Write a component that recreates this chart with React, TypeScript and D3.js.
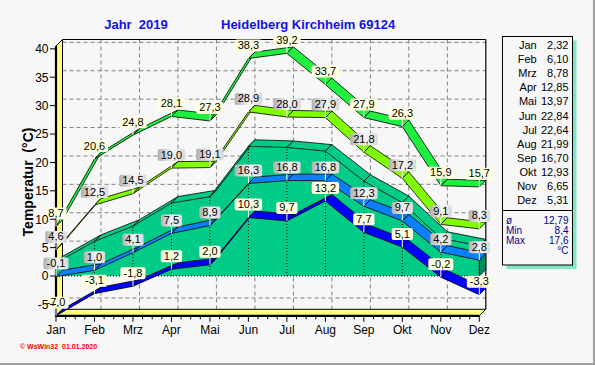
import React from 'react';
import * as d3 from 'd3';

// Monatswerte 2019, Heidelberg Kirchheim
const months = ['Jan', 'Feb', 'Mrz', 'Apr', 'Mai', 'Jun', 'Jul', 'Aug', 'Sep', 'Okt', 'Nov', 'Dez'];
const absMax = [8.7, 20.6, 24.8, 28.1, 27.3, 38.3, 39.2, 33.7, 27.9, 26.3, 15.9, 15.7];
const meanMax = [4.6, 12.5, 14.5, 19.0, 19.1, 28.9, 28.0, 27.9, 21.8, 17.2, 9.1, 8.3];
const meanTemp = [2.32, 6.10, 8.78, 12.85, 13.97, 22.84, 22.64, 21.99, 16.70, 12.93, 6.65, 5.31];
const meanMin = [-0.1, 1.0, 4.1, 7.5, 8.9, 16.3, 16.8, 16.8, 12.3, 9.7, 4.2, 2.8];
const absMin = [-7.0, -3.1, -1.8, 1.2, 2.0, 10.3, 9.7, 13.2, 7.7, 5.1, -0.2, -3.3];
const yTickValues = [-5, 0, 5, 10, 15, 20, 25, 30, 35, 40];
const summaryLabels = ['ø', 'Min', 'Max'];
const summaryValues = ['12,79', '8,4', '17,6'];

const FONT = 'Liberation Sans, Arial, sans-serif';
const DX = 6.5;
const DY = -6.5;

const x = d3.scalePoint<string>().domain(months).range([56, 479.3]);
const y = d3.scaleLinear().domain([-7, 40.5]).range([315.8, 46]);

const fmt = (v: number, digits = 1) => d3.format(`.${digits}f`)(v).replace('.', ',').replace('−', '-');

// rough text width for 11px Arial
const textWidth = (s: string) =>
  s.split('').reduce((w, c) => w + (c === ',' ? 3.1 : c === '-' ? 3.7 : 6.1), 0);

const line = d3.line<[number, number]>();

function ribbon(values: number[]) {
  const out: string[] = [];
  for (let i = 0; i < values.length - 1; i++) {
    const x0 = x(months[i])!, x1 = x(months[i + 1])!;
    const y0 = y(values[i]), y1 = y(values[i + 1]);
    out.push(line([[x0, y0], [x1, y1], [x1 + DX, y1 + DY], [x0 + DX, y0 + DY]])! + 'Z');
  }
  return out;
}

const Ribbon = ({ values, color }: { values: number[]; color: string }) => (
  <g>
    {ribbon(values).map((d, i) => (
      <path key={i} d={d} fill={color} stroke="#000" strokeWidth={0.8} strokeLinejoin="round" />
    ))}
  </g>
);

const Labels = ({ values, fill }: { values: number[]; fill: string }) => (
  <g>
    {values.map((v, i) => {
      const t = fmt(v);
      const w = textWidth(t) + 6;
      const px = x(months[i])!;
      const py = y(v);
      const bottom = Math.min(py - 7, 311);
      return (
        <g key={i}>
          <line x1={px} x2={px} y1={bottom} y2={py} stroke="#fff" strokeWidth={1} />
          <rect x={px - w / 2} y={bottom - 12} width={w} height={12} rx={2} fill={fill} />
          <text x={px} y={bottom - 2.5} textAnchor="middle" fontSize={11} fontFamily={FONT} fill="#000">
            {t}
          </text>
        </g>
      );
    })}
  </g>
);

export default function App() {
  const xL = x(months[0])!;
  const xR = x(months[months.length - 1])!;
  const yTop = y(40.5);
  const yBot = y(-7);
  const y0 = y(0);

  const area = d3
    .area<number>()
    .x((_, i) => x(months[i])!)
    .y0(y0)
    .y1(d => y(d));

  const last = meanTemp.length - 1;
  const sideFace = line([
    [xR, y(meanTemp[last])],
    [xR + DX, y(meanTemp[last]) + DY],
    [xR + DX, y0 + DY],
    [xR, y0],
  ])! + 'Z';

  const minorTicks: number[] = [];
  for (let i = 0; i < months.length - 1; i++) {
    const a = x(months[i])!, b = x(months[i + 1])!;
    for (let k = 1; k < 4; k++) minorTicks.push(a + ((b - a) * k) / 4);
  }

  return (
    <svg width={595} height={365} style={{ position: 'absolute', left: 0, top: 0, display: 'block' }}>
      <defs>
        <linearGradient id="grayLbl" x1="0" x2="1" y1="0" y2="0">
          <stop offset="0" stopColor="#b0b0b0" />
          <stop offset="0.55" stopColor="#f6f6f6" />
          <stop offset="1" stopColor="#d8d8d8" />
        </linearGradient>
      </defs>
      <rect width={595} height={365} fill="#f7f7f7" />
      <line x1={594} x2={594} y1={0} y2={365} stroke="#a0a0a0" strokeWidth={2} />
      <line x1={0} x2={595} y1={364} y2={364} stroke="#a0a0a0" strokeWidth={2} />

      {/* titles */}
      <text x={136} y={29} textAnchor="middle" fontSize={13} fontWeight="bold" fontFamily={FONT} fill="#1010f0" style={{ whiteSpace: 'pre' }}>
        {'Jahr  2019'}
      </text>
      <text x={221} y={29} fontSize={13} fontWeight="bold" fontFamily={FONT} fill="#1010f0">
        Heidelberg Kirchheim 69124
      </text>
      <text
        transform="translate(33,182) rotate(-90)"
        textAnchor="middle"
        fontSize={14}
        fontWeight="bold"
        fontFamily={FONT}
        style={{ whiteSpace: 'pre' }}
      >
        {'Temperatur  (°C)'}
      </text>

      {/* back wall grid */}
      <g stroke="#808080" strokeWidth={1} strokeDasharray="4,3">
        {yTickValues.map(v => (
          <line key={v} x1={xL + DX} x2={xR + DX} y1={y(v) + DY} y2={y(v) + DY} />
        ))}
        {months.slice(1, -1).map(m => (
          <line key={m} x1={x(m)! + DX} x2={x(m)! + DX} y1={yTop + DY} y2={yBot + DY} />
        ))}
      </g>
      <g stroke="#000" strokeWidth={1.2} fill="none">
        <line x1={xL + DX} x2={xR + DX} y1={yTop + DY} y2={yTop + DY} />
        <line x1={xR + DX} x2={xR + DX} y1={yTop + DY} y2={yBot + DY} />
      </g>

      {/* walls */}
      <path
        d={line([[xL, yBot], [xL, yTop], [xL + DX, yTop + DY], [xL + DX, yBot + DY]])! + 'Z'}
        fill="#ffff80"
        stroke="#000"
        strokeWidth={1}
      />
      <path
        d={line([[xL, yBot], [xR, yBot], [xR + DX, yBot + DY], [xL + DX, yBot + DY]])! + 'Z'}
        fill="#ffff80"
        stroke="#000"
        strokeWidth={1}
      />
      <line x1={xL} x2={xL} y1={yTop} y2={yBot + 1} stroke="#000" strokeWidth={2.2} />
      <line x1={xL - 1} x2={xR} y1={yBot} y2={yBot} stroke="#000" strokeWidth={2.2} />

      {/* mean temperature as 3D area */}
      <path d={area(meanTemp)!} fill="#00cc88" />
      <Ribbon values={meanTemp} color="#00cc88" />
      <path d={sideFace} fill="#008c58" stroke="#000" strokeWidth={0.8} />
      <g stroke="#000" strokeWidth={1} strokeDasharray="1,2">
        <line x1={xL} x2={xR} y1={y0} y2={y0} />
        {meanTemp.map((v, i) => (
          <line key={i} x1={x(months[i])!} x2={x(months[i])!} y1={y0} y2={y(v)} />
        ))}
      </g>

      <Ribbon values={absMin} color="#0000ff" />
      <Ribbon values={meanMin} color="#0a80ff" />
      <Ribbon values={meanMax} color="#80ff00" />
      <Ribbon values={absMax} color="#1ef040" />

      <Labels values={absMin} fill="#ffffe0" />
      <Labels values={meanMin} fill="url(#grayLbl)" />
      <Labels values={meanMax} fill="url(#grayLbl)" />
      <Labels values={absMax} fill="#ffffe0" />

      {/* y axis */}
      <g fontFamily={FONT} fontSize={12}>
        {yTickValues.map(v => (
          <g key={v}>
            <line x1={50} x2={xL} y1={y(v)} y2={y(v)} stroke="#000" strokeWidth={1} />
            <text x={48.5} y={y(v) + 4.3} textAnchor="end">
              {v}
            </text>
          </g>
        ))}
      </g>

      {/* x axis */}
      <g stroke="#000" strokeWidth={1}>
        {months.map(m => (
          <line key={m} x1={x(m)!} x2={x(m)!} y1={yBot} y2={yBot + 6} />
        ))}
        {minorTicks.map((t, i) => (
          <line key={i} x1={t} x2={t} y1={yBot} y2={yBot + 3.5} />
        ))}
      </g>
      <g fontFamily={FONT} fontSize={12} textAnchor="middle">
        {months.map(m => (
          <text key={m} x={x(m)!} y={334}>
            {m}
          </text>
        ))}
      </g>

      {/* legend table */}
      <rect x={506.5} y={40.5} width={70} height={228.5} fill="#7fe6c8" />
      <rect x={502.5} y={36.5} width={70} height={228.5} fill="#f7f7f7" stroke="#000" strokeWidth={1} />
      <line x1={502.5} x2={572.5} y1={210.5} y2={210.5} stroke="#000" strokeWidth={1} />
      <g fontFamily={FONT} fontSize={11} textAnchor="end">
        {months.map((m, i) => (
          <g key={m}>
            <text x={536.7} y={49 + i * 14.1}>
              {m}
            </text>
            <text x={568.5} y={49 + i * 14.1}>
              {fmt(meanTemp[i], 2)}
            </text>
          </g>
        ))}
      </g>
      <g fontFamily={FONT} fontSize={10} fill="#000090">
        {summaryLabels.map((l, i) => (
          <g key={l}>
            <text x={506} y={224 + i * 10}>
              {l}
            </text>
            <text x={568.5} y={224 + i * 10} textAnchor="end">
              {summaryValues[i]}
            </text>
          </g>
        ))}
        <text x={568.5} y={254} textAnchor="end">
          °C
        </text>
      </g>

      <text x={20} y={349} fontFamily={FONT} fontSize={7} fontWeight="bold" fill="#ff0000" style={{ whiteSpace: 'pre' }}>
        {'© WsWin32  01.01.2020'}
      </text>
    </svg>
  );
}
